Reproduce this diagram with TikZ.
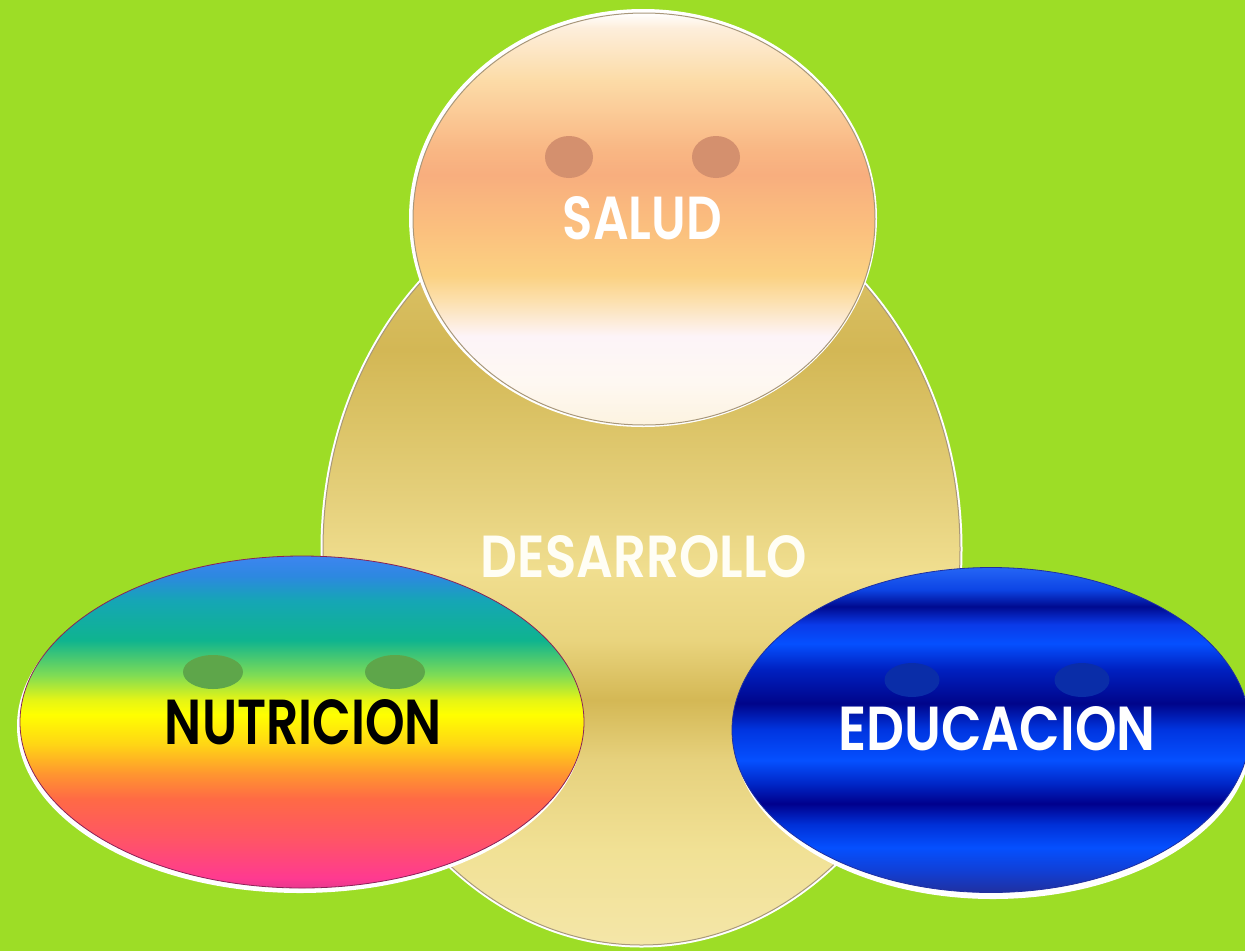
\documentclass[tikz,border=0pt]{standalone}
\usepackage{fontspec}
\setmainfont{Poppins}[BoldFont={Poppins SemiBold}]
\usepackage{graphicx}
\usetikzlibrary{shapes.geometric}
\definecolor{bg}{HTML}{9DDD26}
% SALUD colours
\definecolor{sa1}{HTML}{FDF3E0}\definecolor{sa2}{HTML}{FEF8F2}\definecolor{sa3}{HTML}{FDF4F8}
\definecolor{sa4}{HTML}{FCE0AE}\definecolor{sa5}{HTML}{FBD182}\definecolor{sa6}{HTML}{FBC07E}
\definecolor{sa7}{HTML}{F8AE7E}\definecolor{sa8}{HTML}{F9B784}\definecolor{sa9}{HTML}{FCDCA8}
\definecolor{sa10}{HTML}{FDEEDB}\definecolor{sa11}{HTML}{FFFFFF}
\pgfdeclareverticalshading{saludsh}{100bp}{color(0bp)=(sa1); color(25bp)=(sa1); color(30.27bp)=(sa2);
 color(35.78bp)=(sa3); color(40.07bp)=(sa4); color(43.14bp)=(sa5); color(48.65bp)=(sa6);
 color(55.39bp)=(sa7); color(58.46bp)=(sa8); color(67.03bp)=(sa9); color(73.16bp)=(sa10);
 color(75bp)=(sa11); color(100bp)=(sa11)}
% DESARROLLO colours
\definecolor{de1}{HTML}{F4E6A8}\definecolor{de2}{HTML}{F1E195}\definecolor{de3}{HTML}{E6D17D}
\definecolor{de4}{HTML}{D4B855}\definecolor{de5}{HTML}{E9D47E}\definecolor{de6}{HTML}{F0DE8F}
\definecolor{de7}{HTML}{E5D07C}\definecolor{de8}{HTML}{DBC366}\definecolor{de9}{HTML}{D3B755}
\definecolor{de10}{HTML}{D8BE60}\definecolor{de11}{HTML}{D8C060}
\pgfdeclareverticalshading{desash}{100bp}{color(0bp)=(de1); color(25bp)=(de1); color(31.2bp)=(de2);
 color(37.08bp)=(de3); color(40.99bp)=(de4); color(44.91bp)=(de5); color(49.48bp)=(de6);
 color(54.05bp)=(de7); color(59.27bp)=(de8); color(63.84bp)=(de9); color(67.75bp)=(de10);
 color(75bp)=(de11); color(100bp)=(de11)}
% NUTRICION colours
\definecolor{nu1}{HTML}{E8388F}\definecolor{nu2}{HTML}{FF3A90}\definecolor{nu3}{HTML}{FF5565}
\definecolor{nu4}{HTML}{FF6A45}\definecolor{nu5}{HTML}{FF9530}\definecolor{nu6}{HTML}{FFD515}
\definecolor{nu7}{HTML}{FFFF00}\definecolor{nu8}{HTML}{E5F515}\definecolor{nu9}{HTML}{7EDC55}
\definecolor{nu10}{HTML}{0FB48F}\definecolor{nu11}{HTML}{15A6B5}\definecolor{nu12}{HTML}{2D88E0}
\definecolor{nu13}{HTML}{3D85F0}
\pgfdeclareverticalshading{nutrish}{100bp}{color(0bp)=(nu1); color(25bp)=(nu1); color(26.49bp)=(nu2);
 color(32.46bp)=(nu3); color(38.43bp)=(nu4); color(42.16bp)=(nu5); color(46.64bp)=(nu6);
 color(51.12bp)=(nu7); color(53.36bp)=(nu8); color(57.09bp)=(nu9); color(62.31bp)=(nu10);
 color(68.28bp)=(nu11); color(72.01bp)=(nu12); color(75bp)=(nu13); color(100bp)=(nu13)}
% EDUCACION colours
\definecolor{ed1}{HTML}{2030A0}\definecolor{ed2}{HTML}{1040D8}\definecolor{ed3}{HTML}{0550FF}
\definecolor{ed4}{HTML}{0030D8}\definecolor{ed5}{HTML}{00008C}\definecolor{ed6}{HTML}{0025C5}
\definecolor{ed7}{HTML}{0550FF}\definecolor{ed8}{HTML}{0035E0}\definecolor{ed9}{HTML}{00058A}
\definecolor{ed10}{HTML}{0020C0}\definecolor{ed11}{HTML}{0550FF}\definecolor{ed12}{HTML}{0A3AE8}
\definecolor{ed13}{HTML}{000A8F}\definecolor{ed14}{HTML}{0D45E5}\definecolor{ed15}{HTML}{2565F5}
\pgfdeclareverticalshading{educsh}{100bp}{color(0bp)=(ed1); color(25bp)=(ed1); color(28.54bp)=(ed2);
 color(31.92bp)=(ed3); color(35.46bp)=(ed4); color(38.69bp)=(ed5); color(41.62bp)=(ed6);
 color(45.31bp)=(ed7); color(50.08bp)=(ed8); color(54.08bp)=(ed9); color(59.31bp)=(ed10);
 color(63.31bp)=(ed11); color(66.23bp)=(ed12); color(69bp)=(ed13); color(71.62bp)=(ed14);
 color(75bp)=(ed15); color(100bp)=(ed15)}
\definecolor{eyesa}{HTML}{D4906E}
\definecolor{eyenu}{HTML}{5EA64A}
\definecolor{eyeed}{HTML}{0A2DA8}
\definecolor{rim}{HTML}{A8977A}
\tikzset{
  bubble/.style={ellipse, inner sep=0pt, outer sep=0pt, draw=rim, line width=1pt},
  halo/.style={ellipse, inner sep=0pt, fill=white, draw=none},
  eye/.style={ellipse, inner sep=0pt, draw=none},
  lbl/.style={inner sep=0pt, font=\bfseries},
}
\begin{document}
\begin{tikzpicture}[x=1pt,y=-1pt]
\useasboundingbox (0,0) rectangle (1245,951);
\clip (0,0) rectangle (1245,951);
\fill[bg] (0,0) rectangle (1245,951);
% DESARROLLO (egg shape: upper half ry 370, lower half ry 396)
\path[draw=white, line width=5pt]
  (323,549) arc[start angle=180, end angle=360, x radius=318.5, y radius=370]
  arc[start angle=0, end angle=180, x radius=318.5, y radius=396] -- cycle;
\path[shading=desash, draw=rim, line width=1pt]
  (323,549) arc[start angle=180, end angle=360, x radius=318.5, y radius=370]
  arc[start angle=0, end angle=180, x radius=318.5, y radius=396] -- cycle;
% SALUD
\node[halo, minimum width=468pt, minimum height=418pt] (hsal) at (643,218) {};
\node[bubble, shading=saludsh, minimum width=462pt, minimum height=412pt] (sal) at (644,219) {};
\node[eye, fill=eyesa, minimum width=48pt, minimum height=42pt] (se1) at (569,157) {};
\node[eye, fill=eyesa, minimum width=48pt, minimum height=42pt] (se2) at (716,157) {};
% NUTRICION
\node[halo, minimum width=566pt, minimum height=334pt] (hnut) at (300,726) {};
\node[bubble, draw=nu1!60!black, line width=0.8pt, shading=nutrish, minimum width=564pt, minimum height=332pt] (nut) at (302,722) {};
\node[eye, fill=eyenu, minimum width=60pt, minimum height=34pt] (ne1) at (213,672) {};
\node[eye, fill=eyenu, minimum width=60pt, minimum height=34pt] (ne2) at (395,672) {};
% EDUCACION
\node[halo, minimum width=518pt, minimum height=326pt] (hedu) at (993,736) {};
\node[bubble, draw=ed1, line width=0.8pt, shading=educsh, minimum width=518pt, minimum height=325pt] (edu) at (991,730) {};
\node[eye, fill=eyeed, minimum width=55pt, minimum height=34pt] (ee1) at (912,680) {};
\node[eye, fill=eyeed, minimum width=55pt, minimum height=34pt] (ee2) at (1082,680) {};
% labels
\node[lbl, text=white] (tsal) at (642.5,218.5) {\resizebox{159pt}{43pt}{SALUD}};
\node[lbl, text=white!96!yellow] (tdes) at (644,557) {\resizebox{326pt}{42pt}{DESARROLLO}};
\node[lbl, text=black] (tnut) at (303.5,722.5) {\resizebox{277pt}{45pt}{NUTRICION}};
\node[lbl, text=white] (tedu) at (997,729) {\resizebox{317pt}{44pt}{EDUCACION}};
\end{tikzpicture}
\end{document}
